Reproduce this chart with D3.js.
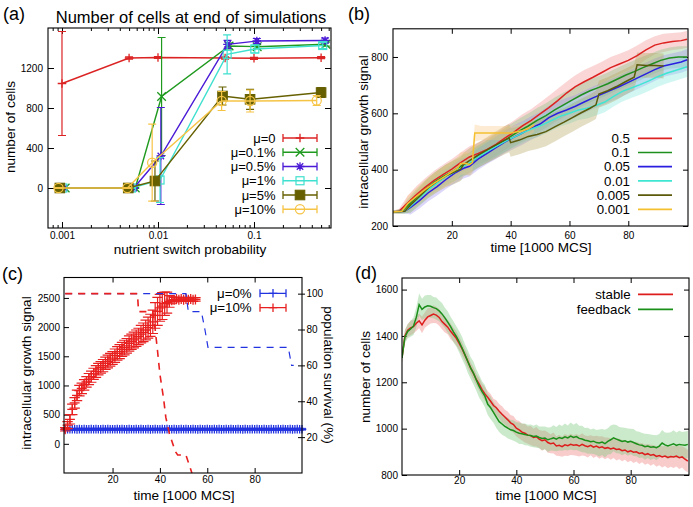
<!DOCTYPE html>
<html><head><meta charset="utf-8">
<script src="https://cdn.jsdelivr.net/npm/d3@7"></script>
<style>
body{margin:0;background:#fff;}
svg{display:block;}
</style></head><body>
<svg id="c" width="693" height="507"></svg>
<script>
// ================= DATA =================
// Panel (a): number of cells at end of simulations vs nutrient switch probability
const aLabels = ["μ=0","μ=0.1%","μ=0.5%","μ=1%","μ=5%","μ=10%"];
const aTicksX = [0.001, 0.01, 0.1];
const aTicksY = [0, 400, 800, 1200];
const a_mu0_x  = [0.001, 0.005, 0.01, 0.05, 0.1, 0.5];
const a_mu0_y  = [1045, 1300, 1305, 1300, 1297, 1303];
const a_mu0_e  = [520, 12, 10, 12, 10, 10];
const a_mu01_x = [0.00108, 0.0058, 0.0109, 0.055, 0.108, 0.56];
const a_mu01_y = [0, 0, 915, 1420, 1413, 1438];
const a_mu01_e = [4, 4, 590, 30, 20, 20];
const a_mu05_x = [0.00105, 0.0056, 0.0107, 0.053, 0.107, 0.55];
const a_mu05_y = [0, 0, 320, 1437, 1470, 1475];
const a_mu05_e = [4, 4, 485, 40, 25, 25];
const a_mu1_x  = [0.00102, 0.0053, 0.0105, 0.0525, 0.102, 0.52];
const a_mu1_y  = [0, 0, 80, 1337, 1390, 1425];
const a_mu1_e  = [4, 4, 225, 195, 40, 30];
const a_mu5_x  = [0.00095, 0.0049, 0.0093, 0.047, 0.091, 0.5];
const a_mu5_y  = [0, 0, 70, 920, 887, 955];
const a_mu5_e  = [4, 4, 200, 90, 100, 50];
const a_mu10_x = [0.00092, 0.0048, 0.0087, 0.046, 0.091, 0.45];
const a_mu10_y = [0, 0, 253, 870, 870, 875];
const a_mu10_e = [4, 4, 385, 95, 110, 50];

// Panel (b): intracellular growth signal, [time, mean, sd]
const bLabels = ["0.5","0.1","0.05","0.01","0.005","0.001"];
const bTicksX = [20,40,60,80];
const bTicksY = [200,400,600,800];
const b_05 = [[0,250,5],[2,252,8],[5,282,25],[8,312,30],[11,338,32],[14,362,34],[17,382,35],[20,402,36],[23,425,36],[26,445,38],[29,458,38],[32,472,40],[35,490,40],[38,512,42],[41,532,42],[44,555,42],[47,575,40],[50,598,40],[53,620,42],[56,645,42],[59,672,40],[62,695,40],[65,712,42],[68,728,40],[71,745,38],[74,762,38],[77,775,36],[80,788,36],[83,805,36],[86,825,34],[89,842,32],[92,850,32],[95,855,30],[98,858,30],[100,863,30]];
const b_01 = [[0,250,5],[3,252,8],[5,272,25],[8,302,30],[11,330,32],[14,355,34],[17,375,36],[20,392,38],[22,405,38],[24,418,38],[26,420,40],[28,440,40],[31,458,40],[34,478,42],[37,498,42],[40,518,44],[43,538,44],[46,555,44],[49,575,44],[52,592,44],[55,612,44],[58,630,44],[61,648,42],[64,665,42],[67,680,42],[70,692,40],[73,705,40],[76,720,40],[79,735,40],[82,748,40],[85,762,40],[88,775,38],[91,788,38],[94,796,38],[97,800,38],[100,800,38]];
const b_005 = [[0,250,5],[4,252,8],[6,266,25],[9,290,28],[12,318,30],[15,340,32],[18,365,34],[21,388,36],[24,405,36],[26,412,36],[29,438,38],[32,458,38],[35,478,40],[38,498,40],[41,515,42],[44,530,42],[47,548,42],[50,562,42],[53,585,42],[56,600,42],[59,612,42],[62,625,40],[65,640,40],[68,655,40],[71,668,40],[74,682,40],[77,695,40],[80,710,40],[83,725,40],[86,740,40],[89,755,40],[92,768,38],[95,775,38],[98,782,38],[100,790,38]];
const b_001 = [[0,250,5],[4,252,8],[6,270,22],[9,300,26],[12,328,28],[15,352,30],[18,375,30],[21,392,32],[24,412,32],[27,432,34],[30,452,34],[33,470,34],[36,488,36],[39,505,36],[42,520,36],[45,535,36],[48,548,36],[51,560,36],[54,575,36],[57,590,36],[60,600,36],[63,612,36],[66,618,36],[69,628,36],[72,640,36],[75,660,36],[78,678,36],[81,690,36],[84,702,36],[87,715,36],[90,730,36],[93,742,36],[96,752,36],[100,765,36]];
const b_0005 = [[0,250,5],[4,252,8],[6,275,28],[9,305,32],[12,335,36],[15,358,38],[18,378,40],[21,392,42],[23,402,42],[24,418,42],[26,432,44],[29,452,44],[32,470,46],[35,488,48],[38,505,50],[39.5,512,50],[40,496,50],[43,505,50],[46,518,52],[49,525,52],[52,535,52],[55,552,52],[58,568,50],[61,585,50],[64,602,50],[67,618,50],[69,630,50],[70,668,48],[73,680,48],[76,695,48],[79,712,46],[82,728,46],[83,772,44],[86,770,44],[89,770,44],[92,768,44]];
const b_0001 = [[0,250,5],[3,252,8],[5,280,28],[8,305,32],[11,330,34],[14,352,36],[17,372,38],[20,392,40],[22,405,40],[23,422,40],[25,422,40],[26,418,40],[27,425,40],[27.8,530,30],[30,530,25],[35,530,25],[40,530,25],[44,538,25],[46,545,25],[48,558,25]];

// Panel (c): growth signal (left axis) with error bars, survival % (right axis)
const cLabels = ["μ=0%","μ=10%"];
const cTicksX = [20,40,60,80];
const cTicksY = [0,500,1000,1500,2000,2500];
const cTicksY2 = [20,40,60,80,100];
const c_mu0 = [250,252,249,251,250,248,252,250,251,249, 250,251,249,252,250,248,251,250,252,249, 250,249,251,250,252,250,248,251,250,249, 251,250,252,249,250,251,248,250,252,250, 249,251,250,252,250,249,251,248,250,251, 250,252,249,250,251,250,248,252,250,249, 251,250,249,252,250,251,248,250,251,250, 252,249,250,251,250,248,252,250,249,251, 250,251,249,250,252,250,248,251,250,249, 251,250,252,249,250,251,248,250,252,250, 250];
const c_mu0_err = 15;
const c_mu10 = [250,320,420,590,700,830,910,950,1010,1060, 1110,1150,1200,1240,1280,1310,1340,1380,1410,1440, 1470,1510,1550,1580,1620,1650,1680,1720,1750,1780, 1810,1840,1880,1910,1950,1990,2030,2090,2200,2270, 2330,2360,2400,2420,2440,2460,2470,2480,2470,2480, 2470,2480,2470,2480,2470,2475];
const c_mu10_err = [30,60,80,90,90,90,90,90,90,90, 95,95,95,100,100,100,105,105,110,110, 110,115,115,120,120,125,125,130,130,135, 140,140,150,160,170,180,190,200,220,240, 230,230,200,180,100,60,40,30,30,30, 30,30,30,30,30,30];
const c_surv_mu0  = [[0,100],[51,100],[52,90],[57.5,90],[59,80],[60.3,70],[94.2,70],[95.6,60],[96.5,60]];
const c_surv_mu10 = [[0,100],[30.5,100],[31,90],[37,90],[38,80],[39,68],[40,55],[41.5,42],[42.5,31],[44,22],[45,18],[46.5,12],[47.5,10],[51,10],[52,6],[53.5,0]];

// Panel (d): number of cells over time, x = 0..100 (1000 MCS)
const dLabels = ["stable","feedback"];
const dTicksX = [20,40,60,80];
const dTicksY = [800,1000,1200,1400,1600];
const d_stable = [1305,1400,1425,1435,1440,1455,1465,1448,1468,1482, 1488,1494,1490,1480,1462,1450,1438,1420,1405,1390, 1368,1345,1318,1292,1262,1238,1212,1192,1168,1150, 1135,1118,1100,1090,1075,1062,1050,1038,1025,1018, 1002,995,985,980,972,970,962,965,955,948, 952,940,935,938,925,928,922,930,926,932, 928,930,925,932,926,922,928,920,925,918, 922,915,918,912,916,910,912,905,908,900, 904,898,900,893,896,888,892,885,888,880, 884,878,882,876,880,878,882,875,878,868, 860];
const d_stable_sd = [20,26,27,32,29,34,31,36,33,37, 34,38,35,36,33,35,31,34,30,31, 29,28,26,29,25,27,24,28,26,30, 27,31,29,33,31,35,32,36,34,37, 35,38,36,40,37,41,38,42,39,43, 40,44,41,45,42,46,43,47,44,46, 43,47,45,48,44,46,43,47,44,48, 45,47,44,46,43,47,44,46,42,45, 43,46,42,45,41,44,42,45,41,44, 42,46,43,47,44,48,45,49,46,50, 48];
const d_feedback = [1305,1395,1420,1430,1442,1480,1535,1515,1525,1530, 1528,1522,1518,1508,1495,1478,1460,1440,1418,1398, 1375,1348,1320,1290,1262,1240,1210,1182,1160,1140, 1105,1090,1070,1050,1030,1020,1010,1002,995,992, 985,980,978,975,972,970,966,968,962,958, 960,952,956,960,955,962,958,965,960,968, 962,966,958,955,950,948,944,946,940,938, 942,935,945,952,960,955,950,945,948,942, 945,940,935,930,928,922,925,920,922,918, 925,938,930,925,930,935,928,932,930,928, 932];
const d_feedback_sd = [22,28,30,34,38,44,48,46,50,47, 49,46,48,45,47,44,46,43,45,44, 46,48,45,49,47,50,46,49,45,48, 46,49,45,47,44,46,43,45,42,44, 43,46,44,47,45,48,46,50,47,51, 49,53,50,55,52,56,53,57,54,58, 55,58,54,57,53,56,52,55,54,58, 56,60,57,62,58,61,57,60,56,59, 55,58,54,57,53,56,52,55,51,54, 52,56,53,57,54,58,55,59,56,60, 58];

// ================= DRAWING =================
const FONT = '"Liberation Sans", Arial, Helvetica, sans-serif';
const svg = d3.select("#c");
const defs = svg.append("defs");
const fmt = d => String(d);

function styleAxis(s, fs){
  s.select(".domain").remove();
  s.attr("font-family", FONT).attr("font-size", fs);
  s.selectAll(".tick line").attr("stroke","#000").attr("stroke-width",1);
  s.selectAll(".tick text").attr("fill","#000");
  return s;
}
function addAxis(g, axis, tx, ty){
  return styleAxis(g.append("g").attr("transform",`translate(${tx},${ty})`).call(axis), 10);
}
function frame(g, x0, x1, y0, y1){
  g.append("rect").attr("x",x0).attr("y",y0).attr("width",x1-x0).attr("height",y1-y0)
   .attr("fill","none").attr("stroke","#000").attr("stroke-width",1.1);
}
function clip(id, x0, x1, y0, y1){
  defs.append("clipPath").attr("id",id).append("rect")
    .attr("x",x0).attr("y",y0).attr("width",x1-x0).attr("height",y1-y0);
}
function text(g, s, x, y, fs, anchor, rot){
  const t = g.append("text").text(s).attr("font-family",FONT).attr("font-size",fs)
    .attr("fill","#000").attr("text-anchor",anchor||"start");
  if (rot) t.attr("transform",`translate(${x},${y}) rotate(${rot})`);
  else t.attr("x",x).attr("y",y);
  return t;
}
function marker(g, type, x, y, col, rr){
  const r = rr || 4.3;
  if (type==="plus") g.append("path").attr("d",`M${x-r},${y}H${x+r}M${x},${y-r}V${y+r}`).attr("stroke",col).attr("stroke-width",1.3).attr("fill","none");
  else if (type==="cross") g.append("path").attr("d",`M${x-r},${y-r}L${x+r},${y+r}M${x-r},${y+r}L${x+r},${y-r}`).attr("stroke",col).attr("stroke-width",1.3).attr("fill","none");
  else if (type==="star") g.append("path").attr("d",`M${x-r},${y}H${x+r}M${x},${y-r}V${y+r}M${x-r*0.75},${y-r*0.75}L${x+r*0.75},${y+r*0.75}M${x-r*0.75},${y+r*0.75}L${x+r*0.75},${y-r*0.75}`).attr("stroke",col).attr("stroke-width",1.3).attr("fill","none");
  else if (type==="sq") g.append("rect").attr("x",x-4).attr("y",y-4).attr("width",8).attr("height",8).attr("stroke",col).attr("stroke-width",1.2).attr("fill","none");
  else if (type==="sqf") g.append("rect").attr("x",x-4.8).attr("y",y-4.8).attr("width",9.6).attr("height",9.6).attr("stroke",col).attr("fill",col);
  else if (type==="circ") g.append("circle").attr("cx",x).attr("cy",y).attr("r",4.6).attr("stroke",col).attr("stroke-width",1.2).attr("fill","none");
}
function errbar(g, px, lo, hi, col, cap, sw){
  g.append("path").attr("d",`M${px},${lo}V${hi}M${px-cap},${lo}H${px+cap}M${px-cap},${hi}H${px+cap}`)
    .attr("stroke",col).attr("stroke-width",sw||1.1).attr("fill","none");
}

// ---------- Panel (a) ----------
{
  const g = svg.append("g");
  const L=48, R=331, T=28, B=228;
  const x = d3.scaleLog().domain([0.000715, 0.634]).range([L, R]);
  const y = d3.scaleLinear().domain([-400, 1600]).range([B, T]);
  const minor = [];
  for (let k=-4;k<=0;k++) for (let m=2;m<=9;m++){ const v=m*Math.pow(10,k); if (v>0.000715 && v<0.634) minor.push(v); }
  addAxis(g, d3.axisBottom(x).tickValues(aTicksX).tickFormat(fmt).tickSize(-6).tickPadding(3.5), 0, B);
  addAxis(g, d3.axisBottom(x).tickValues(minor).tickFormat("").tickSize(-3), 0, B);
  addAxis(g, d3.axisTop(x).tickValues(aTicksX).tickFormat("").tickSize(-6), 0, T);
  addAxis(g, d3.axisTop(x).tickValues(minor).tickFormat("").tickSize(-3), 0, T);
  addAxis(g, d3.axisLeft(y).tickValues(aTicksY).tickFormat(fmt).tickSize(-6).tickPadding(5), L, 0);
  addAxis(g, d3.axisRight(y).tickValues(aTicksY).tickFormat("").tickSize(-6), R, 0);

  const series = [
    {x:a_mu0_x,  y:a_mu0_y,  e:a_mu0_e,  col:"#dc2323", mk:"plus"},
    {x:a_mu01_x, y:a_mu01_y, e:a_mu01_e, col:"#1f9a1f", mk:"cross"},
    {x:a_mu05_x, y:a_mu05_y, e:a_mu05_e, col:"#4a1ad6", mk:"star"},
    {x:a_mu1_x,  y:a_mu1_y,  e:a_mu1_e,  col:"#3fe0cf", mk:"sq"},
    {x:a_mu5_x,  y:a_mu5_y,  e:a_mu5_e,  col:"#666000", mk:"sqf"},
    {x:a_mu10_x, y:a_mu10_y, e:a_mu10_e, col:"#f6c445", mk:"circ"}
  ];
  const line = d3.line().x(d=>x(d[0])).y(d=>y(d[1]));
  series.forEach(s=>{
    const pts = s.x.map((v,i)=>[v, s.y[i], s.e[i]]);
    g.append("path").attr("d", line(pts)).attr("fill","none").attr("stroke",s.col).attr("stroke-width",1.4);
    pts.forEach(p=>{
      errbar(g, x(p[0]), y(p[1]-p[2]), y(p[1]+p[2]), s.col, 4, 1.2);
      marker(g, s.mk, x(p[0]), y(p[1]), s.col);
    });
  });
  series.forEach((s,i)=>{
    const yy = 138 + i*14.25;
    text(g, aLabels[i], 275.5, yy, 13, "end").attr("dy","0.35em");
    g.append("path").attr("d",`M283,${yy}H317M283,${yy-4}V${yy+4}M317,${yy-4}V${yy+4}`).attr("stroke",s.col).attr("stroke-width",1.3).attr("fill","none");
    marker(g, s.mk, 300, yy, s.col);
  });
  frame(g, L, R, T, B);
  text(g, "(a)", 3, 20, 18);
  text(g, "Number of cells at end of simulations", 191, 22.5, 16.5, "middle");
  text(g, "number of cells", 15, 127, 13.6, "middle", -90);
  text(g, "nutrient switch probability", 190, 254, 13.6, "middle");
}

// ---------- Panel (b) ----------
{
  const g = svg.append("g");
  const L=393, R=688, T=28.8, B=226;
  const x = d3.scaleLinear().domain([0, 100.3]).range([L, R]);
  const y = d3.scaleLinear().domain([200, 900]).range([B, T]);
  clip("clipb", L, R, T, B);
  addAxis(g, d3.axisBottom(x).tickValues(bTicksX).tickFormat(fmt).tickSize(-5).tickPadding(6), 0, B);
  addAxis(g, d3.axisTop(x).tickValues(bTicksX).tickFormat("").tickSize(-5), 0, T);
  addAxis(g, d3.axisLeft(y).tickValues(bTicksY).tickFormat(fmt).tickSize(-5).tickPadding(5), L, 0);
  addAxis(g, d3.axisRight(y).tickValues(bTicksY).tickFormat("").tickSize(-5), R, 0);
  const series = [
    {d:b_05,   col:"#dd2222", band:"#f08a8a"},
    {d:b_01,   col:"#1e8f1e", band:"#7fc47f"},
    {d:b_005,  col:"#2a1fe0", band:"#9a8cf2"},
    {d:b_001,  col:"#3fe6d2", band:"#7fe8dc"},
    {d:b_0005, col:"#5a5a0a", band:"#b0a055"},
    {d:b_0001, col:"#f5c030", band:"#f8c880"}
  ];
  const pg = g.append("g").attr("clip-path","url(#clipb)");
  const area = d3.area().x(d=>x(d[0])).y0(d=>y(d[1]-d[2])).y1(d=>y(d[1]+d[2]));
  const line = d3.line().x(d=>x(d[0])).y(d=>y(d[1]));
  series.forEach(s=>{
    pg.append("path").attr("d",area(s.d)).attr("fill",s.band).attr("opacity",0.35);
  });
  series.forEach(s=>{
    pg.append("path").attr("d",line(s.d)).attr("fill","none").attr("stroke",s.col).attr("stroke-width",1.5);
  });
  series.forEach((s,i)=>{
    const yy = 138.3 + i*14.2;
    text(g, bLabels[i], 630, yy, 13.3, "end").attr("dy","0.35em");
    g.append("line").attr("x1",638).attr("x2",672).attr("y1",yy).attr("y2",yy).attr("stroke",s.col).attr("stroke-width",1.7);
  });
  frame(g, L, R, T, B);
  text(g, "(b)", 348, 20, 18);
  text(g, "intracellular growth signal", 367.5, 132, 13.6, "middle", -90);
  text(g, "time [1000 MCS]", 541, 252, 13.6, "middle");
}

// ---------- Panel (c) ----------
{
  const g = svg.append("g");
  const L=64, R=302, T=277.5, B=473;
  const x = d3.scaleLinear().domain([-0.5, 100]).range([L, R]);
  const y = d3.scaleLinear().domain([-500, 2850]).range([B, T]);
  const y2 = d3.scaleLinear().domain([0, 109]).range([B, T]);
  addAxis(g, d3.axisBottom(x).tickValues(cTicksX).tickFormat(fmt).tickSize(-5).tickPadding(2.5), 0, B);
  addAxis(g, d3.axisTop(x).tickValues(cTicksX).tickFormat("").tickSize(-5), 0, T);
  addAxis(g, d3.axisLeft(y).tickValues(cTicksY).tickFormat(fmt).tickSize(-5).tickPadding(4), L, 0);
  addAxis(g, d3.axisRight(y2).tickValues(cTicksY2).tickFormat(fmt).tickSize(3).tickPadding(1.5), R, 0);
  addAxis(g, d3.axisRight(y2).tickValues(cTicksY2).tickFormat("").tickSize(-4), R, 0);
  const blue = "#2233e0", red = "#e82020";
  c_mu0.forEach((v,i)=>{
    errbar(g, x(i), y(v-c_mu0_err), y(v+c_mu0_err), blue, 4, 1);
    marker(g, "plus", x(i), y(v), blue);
  });
  c_mu10.forEach((v,i)=>{
    errbar(g, x(i), y(v-c_mu10_err[i]), y(v+c_mu10_err[i]), red, 5.2, 1.2);
    marker(g, "plus", x(i), y(v), red, 5);
  });
  const line = d3.line().x(d=>x(d[0])).y(d=>y2(d[1]));
  g.append("path").attr("d",line(c_surv_mu0)).attr("fill","none").attr("stroke",blue).attr("stroke-width",1.2).attr("stroke-dasharray","7,6");
  g.append("path").attr("d",line(c_surv_mu10)).attr("fill","none").attr("stroke",red).attr("stroke-width",1.6).attr("stroke-dasharray","7,6");
  [blue, red].forEach((col,i)=>{
    const yy = 293.3 + i*14.4;
    text(g, cLabels[i], 251.7, yy, 13.3, "end").attr("dy","0.35em");
    g.append("path").attr("d",`M260,${yy}H286M260,${yy-4}V${yy+4}M286,${yy-4}V${yy+4}`).attr("stroke",col).attr("stroke-width",1.3).attr("fill","none");
    marker(g, "plus", 273, yy, col);
  });
  frame(g, L, R, T, B);
  text(g, "(c)", 2, 280, 18);
  text(g, "intracellular growth signal", 31, 373, 13.6, "middle", -90);
  text(g, "population survival (%)", 323.5, 375, 13.6, "middle", 90);
  text(g, "time [1000 MCS]", 184, 499.5, 13.6, "middle");
}

// ---------- Panel (d) ----------
{
  const g = svg.append("g");
  const L=402, R=689, T=278, B=475;
  const x = d3.scaleLinear().domain([0, 100.4]).range([L, R]);
  const y = d3.scaleLinear().domain([800, 1650]).range([B, T]);
  clip("clipd", L, R, T, B);
  addAxis(g, d3.axisBottom(x).tickValues(dTicksX).tickFormat(fmt).tickSize(-5).tickPadding(2), 0, B);
  addAxis(g, d3.axisTop(x).tickValues(dTicksX).tickFormat("").tickSize(-5), 0, T);
  addAxis(g, d3.axisLeft(y).tickValues(dTicksY).tickFormat(fmt).tickSize(-5).tickPadding(4), L, 0);
  addAxis(g, d3.axisRight(y).tickValues(dTicksY).tickFormat("").tickSize(-5), R, 0);
  const pg = g.append("g").attr("clip-path","url(#clipd)");
  const st = d_stable.map((v,i)=>[i, v, d_stable_sd[i]]);
  const fb = d_feedback.map((v,i)=>[i, v, d_feedback_sd[i]]);
  const area = d3.area().x(d=>x(d[0])).y0(d=>y(d[1]-d[2])).y1(d=>y(d[1]+d[2]));
  const line = d3.line().x(d=>x(d[0])).y(d=>y(d[1]));
  pg.append("path").attr("d",area(st)).attr("fill","#f08080").attr("opacity",0.4);
  pg.append("path").attr("d",area(fb)).attr("fill","#7cc87c").attr("opacity",0.4);
  pg.append("path").attr("d",line(st)).attr("fill","none").attr("stroke","#dd1c1c").attr("stroke-width",1.5);
  pg.append("path").attr("d",line(fb)).attr("fill","none").attr("stroke","#1a8f1a").attr("stroke-width",1.5);
  ["#dd1c1c","#1a8f1a"].forEach((col,i)=>{
    const yy = 294.3 + i*15;
    text(g, dLabels[i], 630.7, yy, 13.3, "end").attr("dy","0.35em");
    g.append("line").attr("x1",638).attr("x2",673).attr("y1",yy).attr("y2",yy).attr("stroke",col).attr("stroke-width",1.7);
  });
  frame(g, L, R, T, B);
  text(g, "(d)", 355, 279, 18);
  text(g, "number of cells", 369.5, 377, 13.6, "middle", -90);
  text(g, "time [1000 MCS]", 546, 500, 13.6, "middle");
}
</script>
</body></html>
